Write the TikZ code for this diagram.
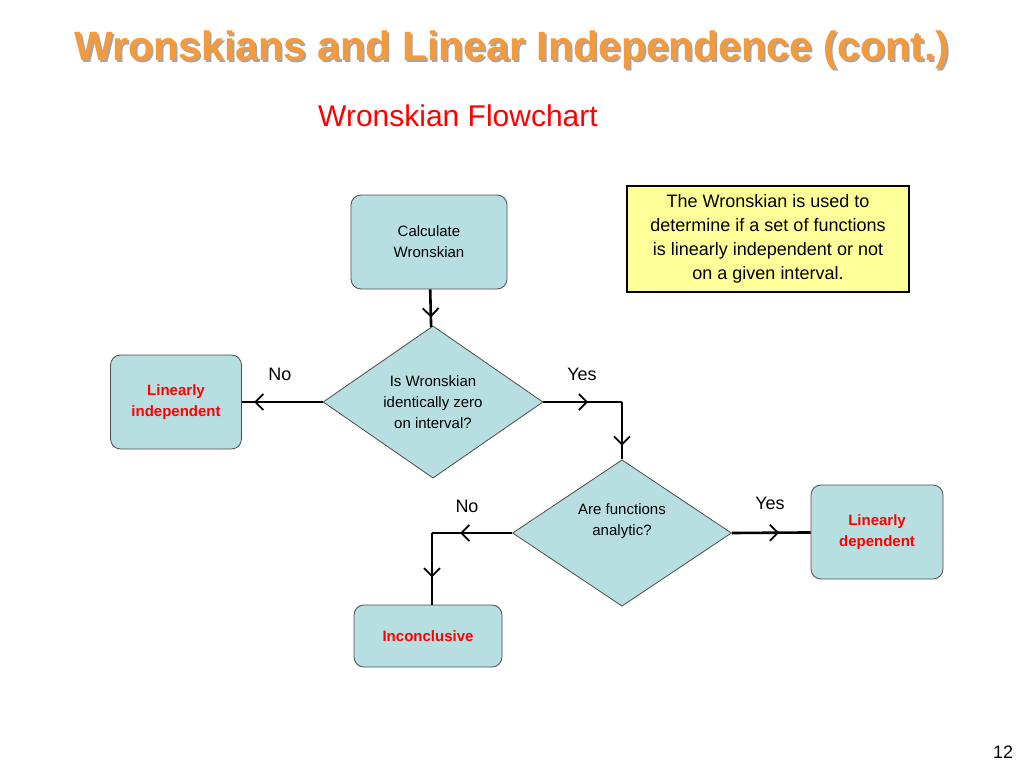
\documentclass[tikz,border=0pt]{standalone}
\usepackage{fontspec}
\setmainfont{Liberation Sans}
\usetikzlibrary{shapes.geometric,arrows.meta,decorations.markings}
\definecolor{boxblue}{HTML}{B7DEE0}
\definecolor{titleorange}{HTML}{F59A3A}
\definecolor{notebg}{HTML}{FFFF99}
\definecolor{redtext}{HTML}{FF0000}
\begin{document}
\begin{tikzpicture}[
                x=1pt, y=-1pt,
                block/.style={
                    rectangle,
                    draw=black!70,
                    fill=boxblue,
                    align=center,
                    rounded corners=10pt,
                    line width=0.8pt,
                    font=\fontsize{15}{21}\selectfont
                },
                decision/.style={
                    diamond,
                    draw=black!70,
                    fill=boxblue,
                    align=center,
                    inner sep=0pt,
                    line width=0.8pt,
                    font=\fontsize{15}{21}\selectfont
                },
                result/.style={
                    font=\bfseries\fontsize{15}{21}\selectfont,
                    text=redtext
                },
                answer/.style={
                    font=\fontsize{18}{22}\selectfont
                },
                line/.style={
                    draw,
                    line width=2.6pt,
                    postaction=decorate,
                    decoration={markings,
                        mark=at position #1 with {\arrow[line width=1.8pt]{Straight Barb[length=8pt,width=16pt]}}}
                }]

                \useasboundingbox (0,0) rectangle (1024,768);

                % titles
                \node [text=black!35, font=\bfseries\fontsize{41}{46}\selectfont] at (514,52) {Wronskians and Linear Independence (cont.)};
                \node [text=titleorange, font=\bfseries\fontsize{41}{46}\selectfont] (title) at (512,50) {Wronskians and Linear Independence (cont.)};
                \node [text=redtext, font=\fontsize{30}{34}\selectfont] (subtitle) at (458,116) {Wronskian Flowchart};

                % boxes
                \node [block, minimum width=156pt, minimum height=94pt] (calc) at (429,242) {Calculate\\Wronskian};
                \node [rectangle, draw, line width=1.6pt, fill=notebg, align=center, minimum width=282pt, minimum height=106pt,
                       font=\fontsize{18}{24}\selectfont] (note) at (768,239)
                      {The Wronskian is used to\\determine if a set of functions\\is linearly independent or not\\on a given interval.};

                \node [decision, minimum width=220pt, minimum height=135pt] (zero) at (433,402) {Is Wronskian\\identically zero\\on interval?};
                \node [block, minimum width=131pt, minimum height=94pt, result] (indep) at (176,402) {Linearly\\independent};

                \node [decision, minimum width=219pt, minimum height=135pt] (analytic) at (622,533) {Are functions\\analytic?\\[6pt]};
                \node [block, minimum width=132pt, minimum height=94pt, result] (dep) at (877,532) {Linearly\\dependent};

                \node [block, minimum width=148pt, minimum height=62pt, result] (incon) at (428,636) {Inconclusive};

                % corner points
                \coordinate (yescorner) at (622,402);
                \coordinate (nocorner) at (432,533);

                \draw [line=0.75] (calc) -- (zero);
                \draw [line=0.85] (zero.west) -- (indep);
                \draw [line=0.57] (zero.east) -- (yescorner);
                \draw [line=0.76] (yescorner) -- (analytic.north);
                \draw [line=0.6] (analytic.east) -- (dep);
                \draw [line=0.65] (analytic.west) -- (nocorner);
                \draw [line=0.62] (nocorner) -- (incon.north -| nocorner);

                % labels
                \node [answer] (no1) at (280,374) {No};
                \node [answer] (yes1) at (582,374) {Yes};
                \node [answer] (no2) at (467,506) {No};
                \node [answer] (yes2) at (770,503) {Yes};

                \node [font=\rmfamily\fontsize{18}{20}\selectfont] (page) at (1003,752) {12};

            \end{tikzpicture}
\end{document}
